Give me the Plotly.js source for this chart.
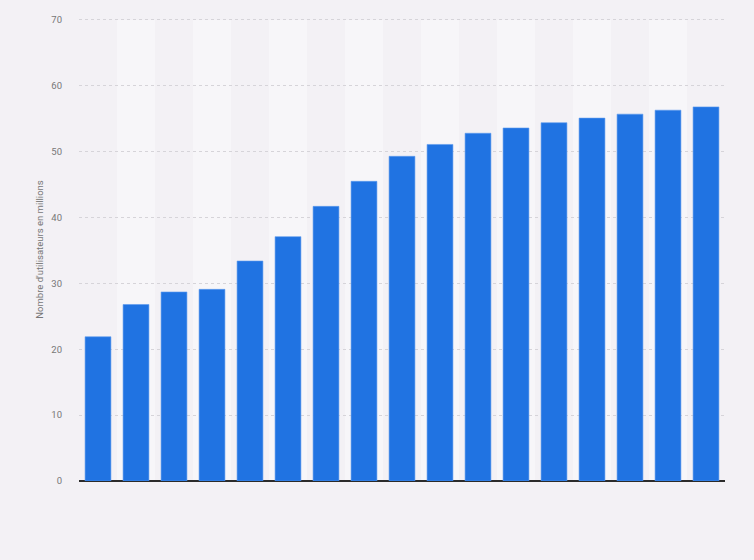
<!DOCTYPE html>
<html>
<head>
<meta charset="utf-8">
<script src="https://cdn.plot.ly/plotly-3.0.1.min.js"></script>
<style>
  html, body { margin: 0; padding: 0; background: #f3f1f5; }
  #chart { width: 754px; height: 560px; }
</style>
</head>
<body>
<div id="chart"></div>
<script>
// categories are not labelled on the chart itself
const CATEGORIES = ['2013', '2014', '2015', '2016', '2017', '2018', '2019', '2020', '2021', '2022', '2023', '2024', '2025', '2026', '2027', '2028', '2029']
const USERS = [21.9, 26.8, 28.7, 29.1, 33.4, 37.1, 41.7, 45.5, 49.3, 51.1, 52.8, 53.6, 54.4, 55.1, 55.7, 56.3, 56.8]
const Y_TICKS = [0, 10, 20, 30, 40, 50, 60, 70]

const BAR_COLOR = '#2073e2'

// lighter stripe behind every other category
let bands = []
CATEGORIES.forEach(function (cat, i) {
  if (i % 2 == 1) {
    bands.push({
      type: 'rect',
      xref: 'x',
      yref: 'y',
      x0: i - 0.5,
      x1: i + 0.5,
      y0: 0,
      y1: Y_TICKS[Y_TICKS.length - 1],
      fillcolor: '#f7f6f9',
      line: { width: 0 },
      layer: 'below'
    })
  }
})

let data = [
  {
    type: 'bar',
    x: CATEGORIES,
    y: USERS,
    marker: {
      color: BAR_COLOR,
      line: { color: '#5d9aee', width: 0.6 }
    },
    hovertemplate: '<b>%{x}:</b> %{y}<extra></extra>'
  }
]

let layout = {
  width: 754,
  height: 560,
  paper_bgcolor: '#f3f1f5',
  plot_bgcolor: 'rgba(0,0,0,0)',
  bargap: 0.32,
  showlegend: false,
  font: { family: 'Roboto, Arial, sans-serif', color: '#666' },
  margin: { l: 79, r: 29, t: 18, b: 79 },
  xaxis: {
    type: 'category',
    range: [-0.5, CATEGORIES.length - 0.5],
    showgrid: false,
    zeroline: false,
    showline: false,
    showticklabels: false,
    ticks: '',
    fixedrange: true
  },
  yaxis: {
    // a little headroom so the 70 gridline is not dropped at the edge
    range: [0, 70.3],
    tickvals: Y_TICKS,
    ticks: '',
    ticklabelstandoff: 16,
    tickfont: { size: 9.5, color: '#777' },
    showgrid: true,
    gridcolor: '#d6d4d9',
    griddash: 'dot',
    gridwidth: 1,
    zeroline: true,
    zerolinecolor: '#2b2b2b',
    zerolinewidth: 1.5,
    showline: false,
    fixedrange: true,
    title: {
      text: "Nombre d'utilisateurs en millions",
      font: { size: 9.5, color: '#777' },
      standoff: 5
    }
  },
  shapes: bands
}

let config = {
  displayModeBar: false,
  responsive: false
}

Plotly.newPlot('chart', data, layout, config)
</script>
</body>
</html>
